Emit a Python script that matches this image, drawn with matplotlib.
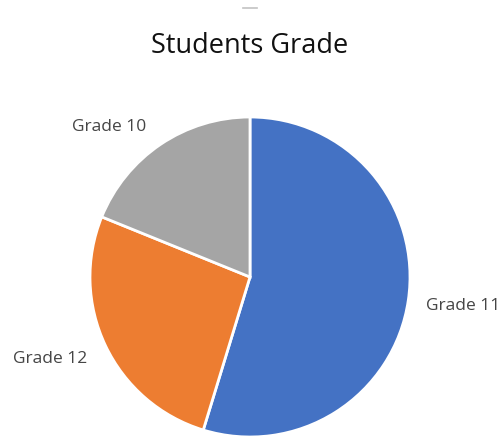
import matplotlib
matplotlib.use("Agg")
import matplotlib.pyplot as plt
import numpy as np

plt.rcParams['font.family'] = ['Open Sans', 'DejaVu Sans']

grades = ["Grade 11", "Grade 12", "Grade 10"]
students = [29, 14, 10]
colors = ["#4472C4", "#ED7D31", "#A5A5A5"]

fig = plt.figure(figsize=(5.01, 4.38), dpi=100)
ax = fig.add_axes([90 / 501, 1 / 438, 320 / 501, 320 / 438])

wedges, _ = ax.pie(students, colors=colors, startangle=90, counterclock=False,
                   wedgeprops=dict(edgecolor="white", linewidth=2))
ax.set_xlim(-1, 1)
ax.set_ylim(-1, 1)
ax.axis("off")

# label positions (in pie-radius units), placed like Excel's best fit
label_pos = [(1.33, -0.18), (-1.25, -0.51), (-0.88, 0.94)]
for name, (lx, ly) in zip(grades, label_pos):
    ax.text(lx, ly, name, ha="center", va="center", fontsize=12.5,
            color="#454545", clip_on=False)

fig.text(0.499, 1 - 46 / 438, "Students Grade", ha="center", va="center",
         fontsize=19.5, color="#111111")
# small gray dash at the top
fig.add_artist(plt.Line2D([243 / 501, 257 / 501], [1 - 8 / 438, 1 - 8 / 438],
                          color="#9a9a9a", linewidth=1.2, alpha=0.6))

fig.savefig("out.png", dpi=100)
